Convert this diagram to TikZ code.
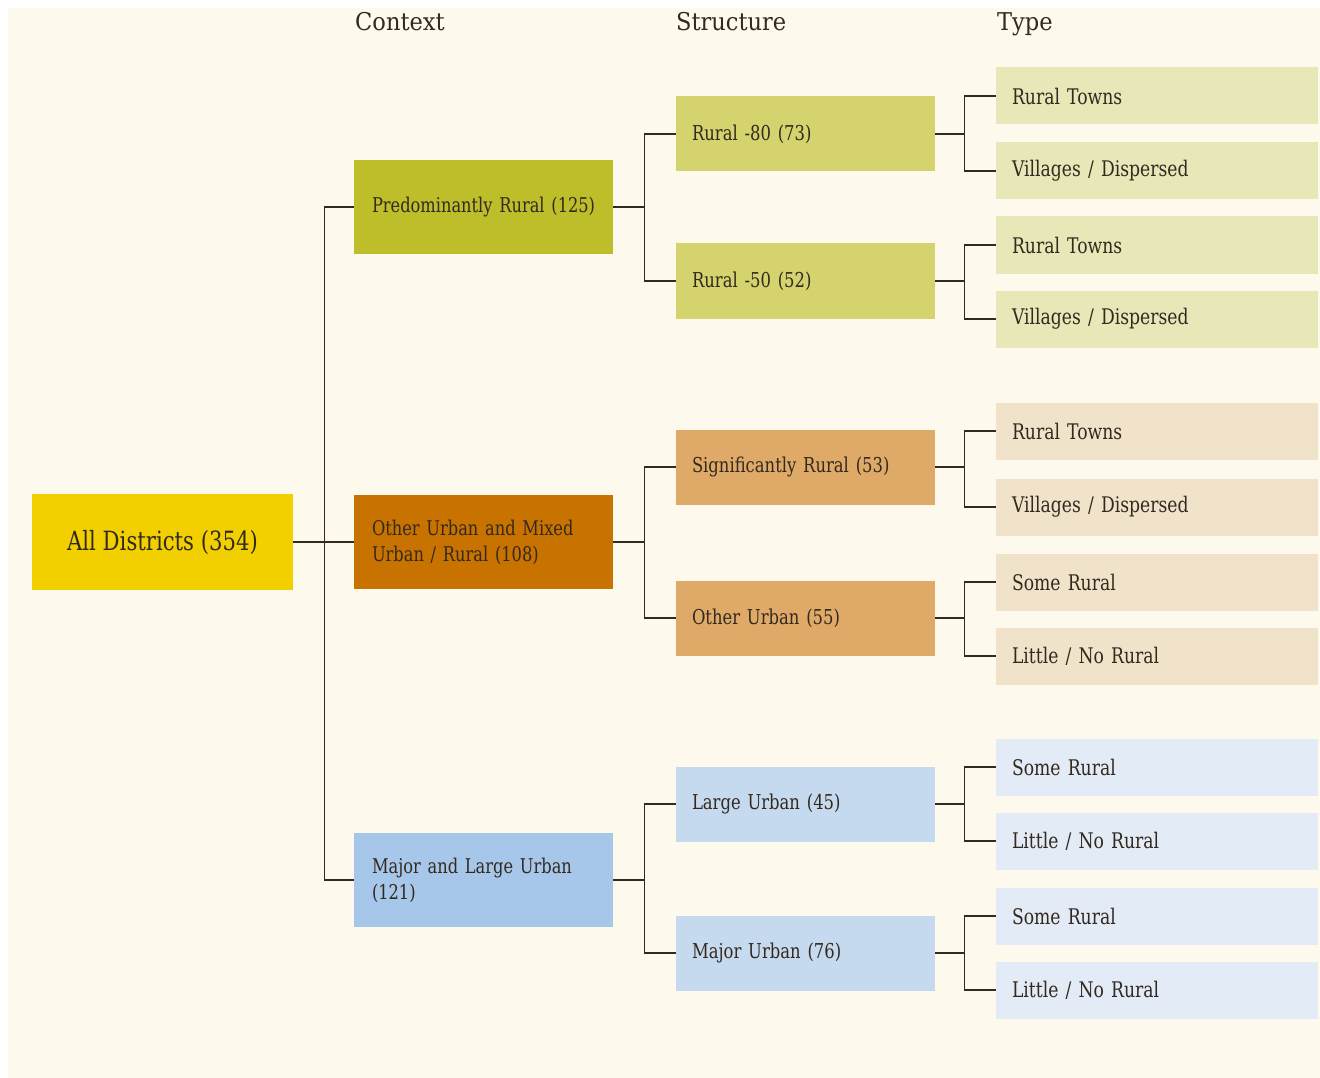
\documentclass[tikz,border=0pt]{standalone}
\usepackage{fontspec}
\setmainfont{DejaVu Serif}[FakeStretch=0.8]
\newfontfamily\headfont{DejaVu Serif}[FakeStretch=0.92]
\definecolor{bgcream}{HTML}{FDF9EC}
\definecolor{inkc}{HTML}{33291F}
\definecolor{yellowc}{HTML}{F2D000}
\definecolor{greenA}{HTML}{BDBE2A}
\definecolor{greenB}{HTML}{D4D36D}
\definecolor{greenC}{HTML}{E8E7B8}
\definecolor{orangeA}{HTML}{C87200}
\definecolor{orangeB}{HTML}{DFAA68}
\definecolor{orangeC}{HTML}{F1E3C9}
\definecolor{blueA}{HTML}{A6C6EA}
\definecolor{blueB}{HTML}{C5D9EF}
\definecolor{blueC}{HTML}{E2EBF6}
\tikzset{
  every node/.style={text=inkc},
  ctxbox/.style={rectangle, minimum width=259pt, minimum height=94pt, inner xsep=8pt,
    text width=243pt, align=left, font=\fontsize{20.3}{26}\selectfont},
  strbox/.style={rectangle, minimum width=259pt, minimum height=75pt, inner xsep=16pt,
    text width=227pt, align=left, font=\fontsize{20.5}{26}\selectfont},
  typbox/.style={rectangle, minimum width=322pt, minimum height=57pt, inner xsep=16pt,
    text width=290pt, align=left, font=\fontsize{21.5}{26}\selectfont},
  hdr/.style={anchor=base west, inner sep=0pt, font=\headfont\fontsize{24.5}{28}\selectfont},
  conn/.style={draw=inkc, line width=1.2pt}
}
\newcommand{\ind}{\hspace*{10pt}}
\begin{document}
\begin{tikzpicture}[x=1pt,y=-1pt]
\useasboundingbox (0,0) rectangle (1320,1078);
\fill[white] (0,0) rectangle (1320,1078);
\fill[bgcream] (8,8) rectangle (1320,1078);

% headers
\node[hdr] (hctx) at (355,31) {Context};
\node[hdr] (hstr) at (676,31) {Structure};
\node[hdr] (htyp) at (997,31) {Type};

% root
\node[rectangle, fill=yellowc, minimum width=261pt, minimum height=96pt,
  font=\fontsize{26.5}{30}\selectfont] (all) at (162.5,542) {All Districts (354)};

% context
\node[ctxbox, fill=greenA] (c1) at (483.5,207) {\ind Predominantly Rural (125)};
\node[ctxbox, fill=orangeA] (c2) at (483.5,542) {\ind Other Urban and Mixed\\\ind Urban / Rural (108)};
\node[ctxbox, fill=blueA] (c3) at (483.5,880) {\ind Major and Large Urban\\\ind (121)};

% structure
\node[strbox, fill=greenB] (s1) at (805.5,134) {Rural -80 (73)};
\node[strbox, fill=greenB] (s2) at (805.5,281) {Rural -50 (52)};
\node[strbox, fill=orangeB] (s3) at (805.5,467) {Significantly Rural (53)};
\node[strbox, fill=orangeB] (s4) at (805.5,618) {Other Urban (55)};
\node[strbox, fill=blueB] (s5) at (805.5,804) {Large Urban (45)};
\node[strbox, fill=blueB] (s6) at (805.5,953) {Major Urban (76)};

% type
\node[typbox, fill=greenC] (t1) at (1157,96) {Rural Towns};
\node[typbox, fill=greenC] (t2) at (1157,171) {Villages / Dispersed};
\node[typbox, fill=greenC] (t3) at (1157,245) {Rural Towns};
\node[typbox, fill=greenC] (t4) at (1157,319) {Villages / Dispersed};
\node[typbox, fill=orangeC] (t5) at (1157,431) {Rural Towns};
\node[typbox, fill=orangeC] (t6) at (1157,507) {Villages / Dispersed};
\node[typbox, fill=orangeC] (t7) at (1157,582) {Some Rural};
\node[typbox, fill=orangeC] (t8) at (1157,656) {Little / No Rural};
\node[typbox, fill=blueC] (t9) at (1157,767) {Some Rural};
\node[typbox, fill=blueC] (t10) at (1157,841) {Little / No Rural};
\node[typbox, fill=blueC] (t11) at (1157,916) {Some Rural};
\node[typbox, fill=blueC] (t12) at (1157,990) {Little / No Rural};

% connectors root -> context
\draw[conn] (all.east) -- (c2.west);
\draw[conn] (c1.west) -- ++(-29,0) |- (c3.west);

% context -> structure
\draw[conn] (c1.east) -- ++(32,0);
\draw[conn] (s1.west) -- ++(-31,0) |- (s2.west);
\draw[conn] (c2.east) -- ++(32,0);
\draw[conn] (s3.west) -- ++(-31,0) |- (s4.west);
\draw[conn] (c3.east) -- ++(32,0);
\draw[conn] (s5.west) -- ++(-31,0) |- (s6.west);

% structure -> type
\foreach \s/\a/\b in {s1/t1/t2, s2/t3/t4, s3/t5/t6, s4/t7/t8, s5/t9/t10, s6/t11/t12}{
  \draw[conn] (\s.east) -- ++(30,0);
  \draw[conn] (\a.west) -- ++(-31,0) |- (\b.west);
}
\end{tikzpicture}
\end{document}
